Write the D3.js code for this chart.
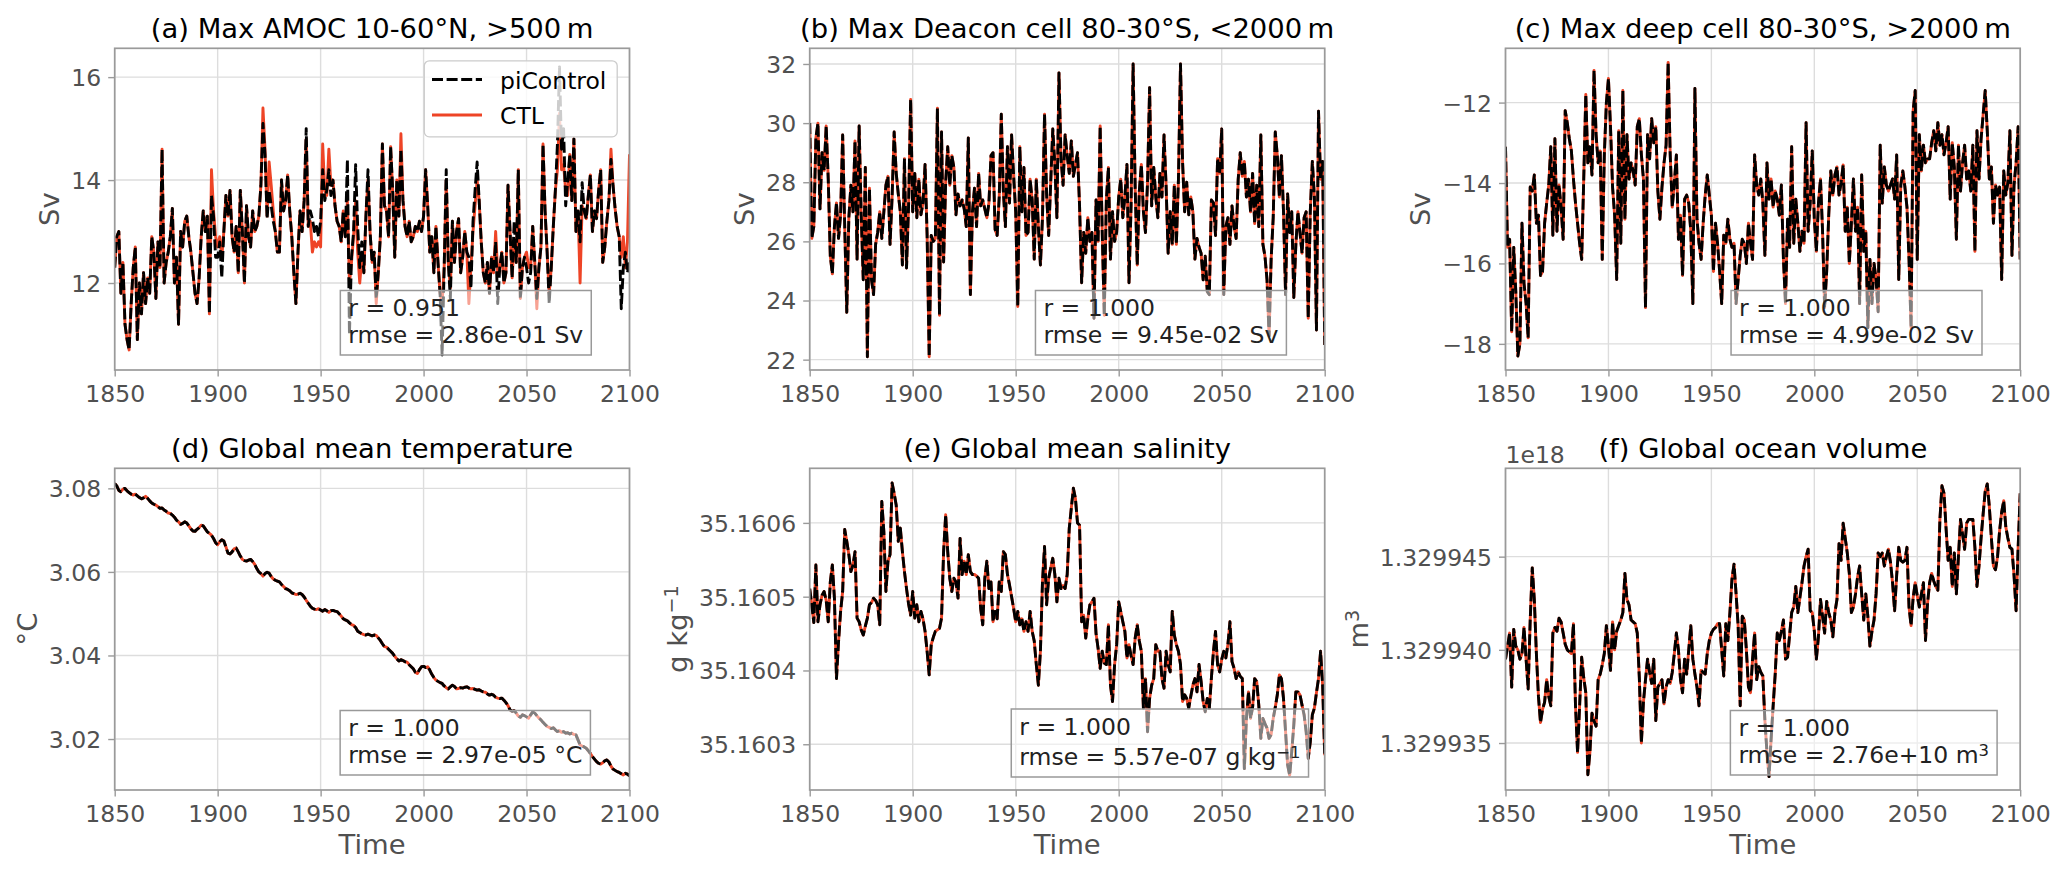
<!DOCTYPE html>
<html><head><meta charset="utf-8">
<script src="https://cdn.jsdelivr.net/npm/d3@7"></script>
<style>
body{margin:0;background:#fff;}
svg{display:block;}
text{font-family:"DejaVu Sans",sans-serif;}
</style>
</head><body>
<svg id="chart" width="2067" height="872"></svg>
<script>
// ---------------- DATA ----------------
const yearStart = 1850, yearEnd = 2100;
const xTicks = [1850, 1900, 1950, 2000, 2050, 2100];

const titles = ["(a) Max AMOC 10-60°N, >500\u2009m", "(b) Max Deacon cell 80-30°S, <2000\u2009m",
  "(c) Max deep cell 80-30°S, >2000\u2009m", "(d) Global mean temperature",
  "(e) Global mean salinity", "(f) Global ocean volume"];
const seriesNames = ["piControl", "CTL"];
const statR = ["0.951", "1.000", "1.000", "1.000", "1.000", "1.000"];
const statRmse = ["2.86e-01", "9.45e-02", "4.99e-02", "2.97e-05", "5.57e-07", "2.76e+10"];

const yTicksA = [12, 14, 16];
const yTicksB = [22, 24, 26, 28, 30, 32];
const yTicksC = [-18, -16, -14, -12];
const yTicksD = [3.02, 3.04, 3.06, 3.08];
const yTicksE = [35.1603, 35.1604, 35.1605, 35.1606];
const yTicksF = [1.329935, 1.329940, 1.329945];

// (a) Max AMOC 10-60N, >500 m  [Sv]
const amocPi = [
12.3,12.9,13.0,11.8,12.4,11.2,10.9,10.7,11.6,12.3,
12.7,10.9,12.0,11.4,12.2,11.6,12.1,11.8,12.9,12.6,
11.7,12.8,12.3,14.6,12.0,12.4,12.6,12.9,13.45,12.0,
12.5,11.2,13.0,12.7,13.2,13.3,12.9,12.6,12.2,11.8,
11.6,12.1,12.9,13.4,13.0,13.3,11.4,13.7,13.3,12.5,
12.5,12.8,12.1,13.0,13.7,13.3,13.8,12.9,12.6,13.1,
12.2,13.8,13.0,12.0,13.5,12.9,12.7,13.4,13.0,13.1,
13.3,13.9,15.1,14.5,13.25,13.8,13.5,13.2,13.0,12.6,
12.6,14.0,13.4,13.6,14.1,13.4,12.9,12.2,11.6,12.6,
13.4,13.0,13.6,15.0,13.1,13.4,13.25,13.0,13.1,12.9,
13.2,14.2,13.6,13.8,14.2,13.7,14.0,13.5,13.2,13.1,
12.8,13.4,12.9,14.4,11.0,12.5,13.0,14.3,13.1,12.3,
12.8,12.2,13.3,14.2,13.0,12.4,12.6,11.7,12.2,12.9,
14.7,13.5,13.4,12.9,14.65,13.8,12.5,14.0,13.3,14.6,
13.6,13.1,12.9,13.2,12.8,12.9,13.1,13.0,13.2,13.0,
13.3,14.2,13.5,12.6,12.9,12.2,13.1,12.4,11.8,10.6,
12.3,14.2,12.4,11.7,13.2,12.4,13.0,13.25,12.2,12.5,
13.0,12.6,12.5,11.9,13.2,13.8,14.35,13.6,12.8,12.2,
12.0,12.4,11.8,12.5,12.2,12.8,11.6,12.3,12.6,12.0,
12.2,13.9,13.0,12.1,13.2,12.4,14.2,11.7,12.3,12.5,
12.3,12.0,12.2,13.1,12.4,11.7,12.3,12.7,14.7,13.4,
12.6,11.6,12.3,13.1,13.8,14.7,16.2,14.6,15.0,13.5,
14.0,14.5,13.6,14.8,13.0,13.4,12.8,13.95,13.4,13.25,
13.7,14.1,13.0,13.4,13.25,13.8,14.2,12.4,12.7,13.2,
13.6,14.4,13.9,13.45,13.1,12.9,11.5,12.3,12.6,12.2,
12.4];
const amocCtl = [
12.3,12.9,13.0,11.8,12.4,11.2,10.9,10.7,11.6,12.3,
12.7,10.9,12.0,11.4,12.2,11.6,12.1,11.8,12.9,12.6,
11.7,12.8,12.3,14.6,12.0,12.4,12.6,12.9,13.45,12.0,
12.5,11.2,13.0,12.7,13.2,13.3,12.9,12.6,12.2,11.8,
11.6,12.1,12.9,13.4,13.0,13.3,11.4,14.2,13.4,12.9,
12.7,12.9,12.5,13.0,13.7,13.3,13.8,12.9,12.6,13.1,
12.2,13.8,13.0,12.0,13.5,12.9,12.7,13.4,13.0,13.1,
13.3,13.9,15.4,14.6,13.3,14.35,13.9,13.4,13.0,12.6,
12.6,14.0,13.4,13.6,14.1,13.4,12.9,12.2,11.6,12.6,
13.4,13.0,13.6,14.8,13.1,13.2,12.6,12.8,12.7,12.8,
12.7,14.7,13.8,13.7,14.6,13.9,14.0,13.5,13.2,13.1,
12.8,13.4,12.9,13.6,12.0,12.4,12.9,13.6,12.6,12.0,
12.5,12.2,13.3,14.0,13.0,12.4,12.6,11.6,12.2,12.9,
14.7,13.5,13.4,12.9,14.65,13.8,12.5,14.0,13.3,14.9,
13.6,13.1,12.9,13.2,12.8,12.9,13.1,13.0,13.2,13.0,
13.3,14.2,13.5,12.6,12.9,12.2,13.1,12.4,11.8,11.6,
12.3,14.0,12.4,11.9,13.2,12.4,13.0,13.25,12.2,12.5,
13.0,12.6,11.6,12.3,13.0,13.5,14.0,13.6,12.8,12.2,
12.0,12.4,11.8,12.5,12.2,13.0,12.2,12.3,12.6,12.0,
12.2,13.9,13.0,12.1,12.8,12.4,14.2,11.7,12.3,12.5,
12.6,12.3,12.3,13.1,12.4,11.5,12.3,12.7,14.7,13.4,
12.6,11.8,12.3,13.1,13.8,14.2,15.3,14.2,14.3,13.8,
13.7,14.5,13.6,14.8,13.0,13.4,12.0,13.5,13.4,13.25,
13.7,14.1,13.0,13.4,13.25,13.8,14.2,12.4,12.7,13.2,
13.6,14.6,13.9,13.45,13.1,12.9,12.5,12.9,12.3,12.8,
14.5];

// (b) Max Deacon cell 80-30S, <2000 m  [Sv]
const deaconPi = [
30.0,26.1,26.5,29.5,30.0,27.1,29.0,28.4,29.9,28.1,
25.5,24.9,26.5,27.3,26.1,26.9,29.6,26.5,23.6,26.8,
27.9,27.0,29.4,25.4,29.9,26.9,24.7,28.5,22.1,27.8,
24.7,24.2,25.9,26.3,27.0,26.1,27.0,27.9,28.2,25.9,
27.5,29.7,28.3,27.6,27.0,25.2,28.8,25.1,27.2,30.8,
27.0,28.3,26.8,28.1,26.9,27.3,28.6,26.2,22.1,26.2,
26.0,26.1,30.5,23.5,29.7,25.3,28.0,29.2,27.9,28.9,
28.5,26.9,27.6,27.2,27.4,27.1,26.5,29.5,24.2,27.0,
27.8,26.5,28.3,27.2,27.4,27.1,26.8,27.3,28.9,29.0,
26.4,26.2,27.5,30.3,27.7,26.5,29.2,27.3,29.6,28.2,
27.0,23.8,29.2,27.0,28.5,26.2,26.3,28.1,27.4,25.4,
28.1,26.5,25.2,26.8,30.3,27.6,26.2,28.0,29.8,28.6,
26.8,31.7,28.8,27.9,29.6,28.9,28.3,29.4,28.2,28.6,
29.0,27.2,24.6,26.3,25.6,26.8,26.0,26.3,23.4,27.4,
26.0,29.9,26.3,23.5,27.4,28.5,25.4,27.0,26.0,26.3,
27.5,28.1,26.8,27.5,28.6,24.6,27.2,32.0,27.8,25.2,
27.7,28.6,27.0,26.3,28.0,31.2,27.2,28.5,27.5,26.8,
28.3,27.5,29.6,27.9,25.6,27.0,25.9,27.9,25.9,28.1,
32.0,28.7,27.0,28.0,26.9,27.5,27.0,25.4,26.1,25.8,
25.6,24.7,25.5,24.3,24.2,27.4,27.3,26.2,28.8,28.3,
29.8,24.2,26.5,26.8,25.9,27.2,26.5,26.1,28.1,29.0,
28.2,28.7,27.5,28.1,27.0,28.3,26.6,27.9,26.5,29.6,
25.9,25.5,24.7,22.8,25.4,26.8,29.7,28.9,27.5,28.9,
27.0,24.2,27.6,26.3,27.0,24.1,25.9,27.0,26.3,25.6,
26.8,27.0,23.4,27.0,28.7,27.5,23.0,30.4,28.1,28.7,
22.5];
const deaconCtl = deaconPi;

// (c) Max deep cell 80-30S, >2000 m  [Sv]
const deepPi = [
-13.1,-15.6,-15.4,-17.7,-15.6,-16.7,-18.3,-18.0,-15.0,-16.5,
-17.0,-17.85,-14.1,-14.2,-13.8,-15.0,-14.8,-16.3,-16.2,-15.0,
-14.5,-14.05,-13.1,-15.3,-12.9,-15.2,-14.05,-14.6,-15.4,-12.2,
-12.5,-12.9,-13.2,-13.9,-14.5,-15.0,-15.5,-15.9,-13.9,-11.8,
-13.5,-13.1,-13.8,-11.2,-12.8,-13.5,-13.2,-15.9,-13.3,-12.0,
-11.4,-12.6,-14.1,-14.8,-16.4,-12.7,-15.5,-11.7,-14.9,-12.8,
-13.9,-13.5,-13.7,-14.05,-12.6,-12.4,-13.3,-13.9,-17.1,-12.8,
-13.4,-12.4,-13.0,-12.6,-14.2,-14.9,-14.1,-13.5,-13.06,-11.0,
-13.3,-14.6,-14.0,-13.3,-15.4,-14.8,-16.3,-14.4,-14.3,-14.5,
-15.2,-17.0,-11.65,-14.9,-15.5,-15.9,-15.0,-14.3,-13.8,-14.3,
-14.8,-16.2,-15.0,-15.5,-16.2,-17.0,-15.3,-15.5,-14.9,-15.4,
-15.6,-15.5,-17.0,-16.4,-15.8,-15.4,-15.5,-16.0,-15.0,-15.5,
-15.9,-13.3,-14.05,-14.3,-13.9,-14.5,-15.8,-13.5,-14.4,-13.9,
-14.6,-14.2,-14.4,-14.8,-14.05,-15.9,-17.0,-14.9,-15.6,-13.1,
-15.5,-14.4,-15.0,-15.7,-15.2,-15.5,-12.5,-15.2,-14.5,-13.2,
-14.9,-15.7,-14.5,-13.9,-15.2,-17.1,-16.2,-14.8,-13.7,-14.3,
-13.8,-13.6,-14.3,-14.0,-13.55,-15.2,-14.6,-16.0,-15.0,-13.9,
-15.2,-14.6,-17.0,-13.8,-15.7,-15.2,-17.6,-15.9,-17.0,-16.0,
-16.4,-17.2,-13.06,-14.5,-13.6,-14.05,-14.2,-14.05,-13.9,-14.4,
-13.3,-16.4,-14.05,-13.7,-14.1,-14.6,-15.9,-17.6,-12.2,-11.7,
-15.9,-12.8,-13.7,-13.06,-13.5,-13.4,-13.4,-13.0,-12.7,-13.2,
-12.5,-13.06,-12.8,-13.3,-13.0,-12.6,-14.4,-13.0,-13.6,-15.4,
-13.06,-14.2,-13.5,-13.06,-13.9,-13.7,-14.2,-13.06,-15.7,-12.7,
-13.9,-12.9,-12.3,-11.7,-12.7,-13.9,-13.6,-15.0,-14.05,-14.3,
-14.1,-16.4,-13.7,-14.3,-14.0,-12.7,-15.8,-14.05,-13.5,-12.6,
-15.9];
const deepCtl = deepPi;

// (d) Global mean temperature [°C]
const tempPi = [
3.0812,3.0806,3.0795,3.0792,3.0798,3.0800,3.0794,3.0790,3.0786,3.0784,
3.0786,3.0782,3.0778,3.0775,3.0777,3.0781,3.0776,3.0770,3.0765,3.0762,
3.0760,3.0756,3.0752,3.0753,3.0748,3.0745,3.0741,3.0740,3.0736,3.0731,
3.0724,3.0720,3.0714,3.0716,3.0720,3.0717,3.0710,3.0703,3.0698,3.0697,
3.0702,3.0706,3.0712,3.0710,3.0703,3.0696,3.0692,3.0688,3.0680,3.0670,
3.0665,3.0672,3.0677,3.0674,3.0660,3.0645,3.0643,3.0648,3.0655,3.0657,
3.0648,3.0638,3.0630,3.0627,3.0626,3.0628,3.0630,3.0625,3.0618,3.0608,
3.0600,3.0596,3.0590,3.0596,3.0599,3.0597,3.0589,3.0583,3.0580,3.0578,
3.0576,3.0570,3.0565,3.0560,3.0558,3.0555,3.0550,3.0548,3.0546,3.0547,
3.0549,3.0546,3.0540,3.0532,3.0525,3.0518,3.0513,3.0511,3.0510,3.0512,
3.0509,3.0506,3.0510,3.0507,3.0503,3.0507,3.0508,3.0506,3.0505,3.0500,
3.0494,3.0488,3.0485,3.0483,3.0478,3.0474,3.0472,3.0467,3.0458,3.0455,
3.0452,3.0450,3.0449,3.0451,3.0449,3.0447,3.0449,3.0448,3.0442,3.0436,
3.0428,3.0421,3.0420,3.0415,3.0410,3.0405,3.0398,3.0392,3.0387,3.0390,
3.0388,3.0385,3.0384,3.0378,3.0373,3.0368,3.0360,3.0357,3.0366,3.0373,
3.0374,3.0371,3.0373,3.0365,3.0355,3.0347,3.0341,3.0338,3.0335,3.0333,
3.0327,3.0323,3.0320,3.0325,3.0329,3.0326,3.0320,3.0321,3.0323,3.0322,
3.0324,3.0325,3.0322,3.0320,3.0321,3.0319,3.0317,3.0318,3.0315,3.0313,
3.0312,3.0308,3.0305,3.0307,3.0305,3.0300,3.0298,3.0297,3.0298,3.0293,
3.0287,3.0280,3.0270,3.0266,3.0268,3.0262,3.0255,3.0252,3.0258,3.0256,
3.0253,3.0250,3.0258,3.0265,3.0262,3.0256,3.0250,3.0246,3.0240,3.0235,
3.0230,3.0228,3.0225,3.0227,3.0222,3.0218,3.0220,3.0216,3.0218,3.0214,
3.0215,3.0212,3.0214,3.0211,3.0210,3.0198,3.0186,3.0183,3.0181,3.0178,
3.0172,3.0165,3.0158,3.0152,3.0146,3.0142,3.0140,3.0143,3.0148,3.0150,
3.0145,3.0135,3.0128,3.0125,3.0122,3.0120,3.0117,3.0114,3.0118,3.0116,
3.0112];
const tempCtl = tempPi;

// (e) Global mean salinity [g kg-1]
const salinityPi = [
35.160511,35.160489,35.160465,35.160543,35.160466,35.160489,35.160502,35.160507,35.160495,35.160466,
35.160520,35.160543,35.160498,35.160389,35.160439,35.160480,35.160507,35.160591,35.160575,35.160557,
35.160534,35.160543,35.160561,35.160471,35.160466,35.160455,35.160448,35.160460,35.160471,35.160489,
35.160492,35.160498,35.160495,35.160489,35.160462,35.160629,35.160588,35.160507,35.160548,35.160557,
35.160654,35.160640,35.160624,35.160575,35.160593,35.160561,35.160534,35.160511,35.160490,35.160475,
35.160507,35.160471,35.160489,35.160466,35.160480,35.160470,35.160453,35.160426,35.160394,35.160435,
35.160445,35.160453,35.160455,35.160457,35.160471,35.160561,35.160611,35.160561,35.160525,35.160507,
35.160525,35.160520,35.160498,35.160579,35.160530,35.160548,35.160530,35.160557,35.160534,35.160530,
35.160530,35.160528,35.160525,35.160484,35.160462,35.160525,35.160548,35.160511,35.160520,35.160466,
35.160480,35.160470,35.160520,35.160507,35.160561,35.160557,35.160530,35.160516,35.160500,35.160484,
35.160466,35.160480,35.160462,35.160470,35.160453,35.160466,35.160453,35.160480,35.160453,35.160440,
35.160408,35.160380,35.160426,35.160520,35.160568,35.160489,35.160525,35.160539,35.160552,35.160530,
35.160493,35.160525,35.160511,35.160515,35.160511,35.160530,35.160593,35.160620,35.160647,35.160633,
35.160600,35.160597,35.160466,35.160475,35.160444,35.160470,35.160489,35.160493,35.160498,35.160450,
35.160430,35.160403,35.160426,35.160410,35.160408,35.160462,35.160380,35.160358,35.160408,35.160435,
35.160493,35.160480,35.160466,35.160453,35.160417,35.160435,35.160420,35.160408,35.160444,35.160462,
35.160440,35.160426,35.160349,35.160389,35.160317,35.160362,35.160380,35.160389,35.160435,35.160426,
35.160426,35.160389,35.160376,35.160426,35.160408,35.160398,35.160480,35.160448,35.160435,35.160426,
35.160408,35.160358,35.160367,35.160362,35.160349,35.160365,35.160380,35.160389,35.160371,35.160408,
35.160385,35.160358,35.160344,35.160362,35.160349,35.160390,35.160426,35.160453,35.160408,35.160398,
35.160415,35.160426,35.160417,35.160435,35.160466,35.160412,35.160403,35.160389,35.160398,35.160392,
35.160389,35.160267,35.160335,35.160371,35.160335,35.160350,35.160389,35.160385,35.160353,35.160308,
35.160335,35.160328,35.160322,35.160308,35.160313,35.160335,35.160350,35.160367,35.160394,35.160389,
35.160362,35.160317,35.160272,35.160258,35.160290,35.160326,35.160371,35.160371,35.160367,35.160353,
35.160340,35.160317,35.160281,35.160303,35.160340,35.160349,35.160370,35.160389,35.160426,35.160380,
35.160285];
const salinityCtl = salinityPi;

// (f) Global ocean volume [1e18 m3]
const volumePi = [
1.3299395,1.3299402,1.3299409,1.3299380,1.3299411,1.3299402,1.3299400,1.3299395,1.3299398,1.3299412,
1.3299395,1.3299379,1.3299416,1.3299444,1.3299427,1.3299398,1.3299375,1.3299361,1.3299368,1.3299372,
1.3299384,1.3299375,1.3299370,1.3299409,1.3299412,1.3299410,1.3299417,1.3299415,1.3299409,1.3299403,
1.3299400,1.3299399,1.3299398,1.3299414,1.3299370,1.3299345,1.3299370,1.3299396,1.3299385,1.3299377,
1.3299333,1.3299345,1.3299366,1.3299362,1.3299359,1.3299384,1.3299387,1.3299392,1.3299398,1.3299413,
1.3299402,1.3299389,1.3299415,1.3299400,1.3299410,1.3299413,1.3299416,1.3299420,1.3299441,1.3299427,
1.3299424,1.3299416,1.3299415,1.3299414,1.3299409,1.3299385,1.3299350,1.3299372,1.3299384,1.3299395,
1.3299388,1.3299382,1.3299395,1.3299362,1.3299380,1.3299382,1.3299384,1.3299371,1.3299380,1.3299384,
1.3299382,1.3299388,1.3299398,1.3299409,1.3299400,1.3299384,1.3299377,1.3299395,1.3299387,1.3299400,
1.3299413,1.3299395,1.3299387,1.3299380,1.3299370,1.3299389,1.3299388,1.3299387,1.3299398,1.3299405,
1.3299409,1.3299411,1.3299412,1.3299414,1.3299414,1.3299400,1.3299386,1.3299414,1.3299405,1.3299420,
1.3299438,1.3299446,1.3299430,1.3299413,1.3299370,1.3299418,1.3299416,1.3299400,1.3299380,1.3299377,
1.3299395,1.3299409,1.3299384,1.3299391,1.3299388,1.3299386,1.3299362,1.3299345,1.3299332,1.3299352,
1.3299370,1.3299387,1.3299409,1.3299405,1.3299410,1.3299416,1.3299395,1.3299396,1.3299408,1.3299420,
1.3299423,1.3299434,1.3299420,1.3299428,1.3299436,1.3299445,1.3299450,1.3299454,1.3299421,1.3299420,
1.3299410,1.3299395,1.3299407,1.3299427,1.3299418,1.3299409,1.3299426,1.3299420,1.3299416,1.3299407,
1.3299420,1.3299427,1.3299457,1.3299448,1.3299468,1.3299460,1.3299452,1.3299441,1.3299420,1.3299423,
1.3299430,1.3299439,1.3299445,1.3299430,1.3299416,1.3299430,1.3299418,1.3299402,1.3299410,1.3299416,
1.3299430,1.3299452,1.3299450,1.3299452,1.3299445,1.3299450,1.3299454,1.3299447,1.3299436,1.3299421,
1.3299440,1.3299455,1.3299448,1.3299447,1.3299448,1.3299455,1.3299423,1.3299413,1.3299428,1.3299436,
1.3299429,1.3299423,1.3299430,1.3299436,1.3299405,1.3299425,1.3299436,1.3299441,1.3299437,1.3299434,
1.3299432,1.3299470,1.3299488,1.3299484,1.3299465,1.3299448,1.3299455,1.3299434,1.3299452,1.3299430,
1.3299450,1.3299470,1.3299462,1.3299454,1.3299468,1.3299470,1.3299470,1.3299470,1.3299455,1.3299434,
1.3299445,1.3299460,1.3299473,1.3299485,1.3299489,1.3299477,1.3299460,1.3299445,1.3299443,1.3299450,
1.3299464,1.3299474,1.3299480,1.3299466,1.3299460,1.3299455,1.3299454,1.3299440,1.3299421,1.3299455,
1.3299484];
const volumeCtl = volumePi;

// ---------------- LAYOUT / STYLE ----------------
const colX = [[114.7, 629.5], [809.7, 1324.7], [1505.5, 2020.2]];
const rowY = [[48.3, 370], [468.3, 790]];
const FS_TICK = 23.5, FS_LABEL = 27.4, FS_TITLE = 27.4, FS_BOX = 23.5;
const TICK_TXT = "#505050", SPINE = "#9a9a9a", GRID = "#dddddd";
const RED = "#ee4426", BLACK = "#000000";
const LW = 2.9, DASH = "11,3.6";

const years = d3.range(yearStart, yearEnd + 1);

const panels = [
  {title: titles[0], pi: amocPi, ctl: amocCtl, dom: [10.31, 16.56], ticks: yTicksA, fmt: d3.format("d"),
   ylabel: [{t: "Sv"}], unit: [{t: " Sv"}], row: 0, col: 0, boxFrac: 0.682, legend: true},
  {title: titles[1], pi: deaconPi, ctl: deaconCtl, dom: [21.65, 32.53], ticks: yTicksB, fmt: d3.format("d"),
   ylabel: [{t: "Sv"}], unit: [{t: " Sv"}], row: 0, col: 1, boxFrac: 0.682},
  {title: titles[2], pi: deepPi, ctl: deepCtl, dom: [-18.65, -10.65], ticks: yTicksC, fmt: d3.format("d"),
   ylabel: [{t: "Sv"}], unit: [{t: " Sv"}], row: 0, col: 2, boxFrac: 0.682},
  {title: titles[3], pi: tempPi, ctl: tempCtl, dom: [3.0078, 3.0848], ticks: yTicksD, fmt: d3.format(".2f"),
   ylabel: [{t: "°C"}], unit: [{t: " °C"}], row: 1, col: 0, boxFrac: 0.681, xlabel: "Time"},
  {title: titles[4], pi: salinityPi, ctl: salinityCtl, dom: [35.160238, 35.160674], ticks: yTicksE, fmt: d3.format(".4f"),
   ylabel: [{t: "g kg"}, {t: "\u22121", sup: true}], unit: [{t: " g kg"}, {t: "\u22121", sup: true}], row: 1, col: 1, boxFrac: 0.68, xlabel: "Time", tall: true},
  {title: titles[5], pi: volumePi, ctl: volumeCtl, dom: [1.32993248, 1.32994974], ticks: yTicksF, fmt: d3.format(".6f"),
   ylabel: [{t: "m"}, {t: "3", sup: true}], unit: [{t: " m"}, {t: "3", sup: true}], row: 1, col: 2, boxFrac: 0.696, xlabel: "Time", offset: "1e18"}
];

const svg = d3.select("#chart");
svg.append("rect").attr("width", 2067).attr("height", 872).attr("fill", "#fff");

function addRich(textSel, segs, fs) {
  const raise = fs * 0.3;
  let up = false;
  segs.forEach(s => {
    const ts = textSel.append("tspan").text(s.t);
    if (s.sup) {
      ts.attr("font-size", fs * 0.7);
      if (!up) { ts.attr("dy", -raise); up = true; }
    } else if (up) {
      ts.attr("dy", raise); up = false;
    }
  });
}

panels.forEach((p, i) => {
  const [x0, x1] = colX[p.col], [y0, y1] = rowY[p.row];
  const x = d3.scaleLinear().domain([yearStart, yearEnd]).range([x0, x1]);
  const y = d3.scaleLinear().domain(p.dom).range([y1, y0]);
  const g = svg.append("g");

  const cid = "clip" + i;
  svg.append("clipPath").attr("id", cid).append("rect")
    .attr("x", x0).attr("y", y0).attr("width", x1 - x0).attr("height", y1 - y0);

  // grid
  const grid = g.append("g").attr("stroke", GRID).attr("stroke-width", 1.4);
  grid.selectAll(".gx").data(xTicks).join("line")
    .attr("x1", d => x(d)).attr("x2", d => x(d)).attr("y1", y0).attr("y2", y1);
  grid.selectAll(".gy").data(p.ticks).join("line")
    .attr("x1", x0).attr("x2", x1).attr("y1", d => y(d)).attr("y2", d => y(d));

  // lines
  const line = d3.line().x((d, j) => x(years[j])).y(d => y(d));
  const lg = g.append("g").attr("clip-path", `url(#${cid})`);
  lg.append("path").datum(p.ctl).attr("d", line).attr("fill", "none")
    .attr("stroke", RED).attr("stroke-width", LW).attr("stroke-linejoin", "round");
  lg.append("path").datum(p.pi).attr("d", line).attr("fill", "none")
    .attr("stroke", BLACK).attr("stroke-width", LW).attr("stroke-dasharray", DASH)
    .attr("stroke-linejoin", "round");

  // axes
  const xa = g.append("g").attr("transform", `translate(0,${y1})`)
    .call(d3.axisBottom(x).tickValues(xTicks).tickFormat(d3.format("d")).tickSize(6.5).tickPadding(8.5));
  const ya = g.append("g").attr("transform", `translate(${x0},0)`)
    .call(d3.axisLeft(y).tickValues(p.ticks).tickFormat(p.fmt).tickSize(6.5).tickPadding(7));
  [xa, ya].forEach(a => {
    a.select(".domain").remove();
    a.selectAll(".tick line").attr("stroke", SPINE).attr("stroke-width", 1.4);
    a.selectAll(".tick text").attr("font-size", FS_TICK).attr("fill", TICK_TXT)
      .attr("font-family", "DejaVu Sans");
  });
  ya.selectAll(".tick text").attr("dy", "0.36em");

  // spines
  g.append("rect").attr("x", x0).attr("y", y0).attr("width", x1 - x0).attr("height", y1 - y0)
    .attr("fill", "none").attr("stroke", SPINE).attr("stroke-width", 1.7);

  // title
  g.append("text").attr("x", (x0 + x1) / 2).attr("y", y0 - 10.5).attr("text-anchor", "middle")
    .attr("font-size", FS_TITLE).attr("fill", "#000").text(p.title);

  // y label
  const bb = ya.node().getBBox();
  const lx = x0 + bb.x - 12.3;
  const yl = g.append("text").attr("transform", `translate(${lx},${(y0 + y1) / 2}) rotate(-90)`)
    .attr("text-anchor", "middle").attr("font-size", FS_LABEL).attr("fill", TICK_TXT);
  addRich(yl, p.ylabel, FS_LABEL);

  // x label
  if (p.xlabel) {
    g.append("text").attr("x", (x0 + x1) / 2).attr("y", y1 + 63.5).attr("text-anchor", "middle")
      .attr("font-size", FS_LABEL).attr("fill", TICK_TXT).text(p.xlabel);
  }

  // offset text
  if (p.offset) {
    g.append("text").attr("x", x0).attr("y", y0 - 5.6).attr("font-size", FS_TICK)
      .attr("fill", TICK_TXT).text(p.offset);
  }

  // stats box
  const boxBottom = y1 - (p.tall ? 13 : 15);
  const base2 = boxBottom - 11.7;
  const base1 = base2 - (p.tall ? 30.5 : 27);
  const boxTop = base1 - 25.8;
  const bg = g.append("g");
  const rect = bg.append("rect");
  const t1 = bg.append("text").attr("font-size", FS_BOX).attr("fill", "#222").attr("y", base1)
    .text("r = " + statR[i]);
  const t2 = bg.append("text").attr("font-size", FS_BOX).attr("fill", "#222").attr("y", base2);
  addRich(t2, [{t: "rmse = " + statRmse[i]}].concat(p.unit), FS_BOX);
  const w = Math.max(t1.node().getComputedTextLength(), t2.node().getComputedTextLength()) + 16;
  const bx = x0 + p.boxFrac * (x1 - x0) - w / 2;
  t1.attr("x", bx + 8); t2.attr("x", bx + 8);
  t2.selectAll("tspan").filter((d, k) => k === 0).attr("x", bx + 8);
  rect.attr("x", bx).attr("y", boxTop).attr("width", w).attr("height", boxBottom - boxTop)
    .attr("fill", "#fff").attr("fill-opacity", 0.5).attr("stroke", "#999").attr("stroke-width", 1.5);

  // legend
  if (p.legend) {
    const L = g.append("g");
    L.append("rect").attr("x", 424.3).attr("y", 60.8).attr("width", 617.2 - 424.3).attr("height", 136.8 - 60.8)
      .attr("rx", 5).attr("fill", "#fff").attr("fill-opacity", 0.8).attr("stroke", "#cccccc").attr("stroke-width", 1.3);
    const entries = [
      {name: seriesNames[0], color: BLACK, dash: DASH, ly: 79.5, ty: 88.5},
      {name: seriesNames[1], color: RED, dash: null, ly: 115, ty: 124}
    ];
    entries.forEach(e => {
      L.append("line").attr("x1", 432).attr("x2", 482).attr("y1", e.ly).attr("y2", e.ly)
        .attr("stroke", e.color).attr("stroke-width", LW).attr("stroke-dasharray", e.dash);
      L.append("text").attr("x", 500).attr("y", e.ty).attr("font-size", FS_TICK).attr("fill", "#000").text(e.name);
    });
  }
});
</script>
</body></html>
